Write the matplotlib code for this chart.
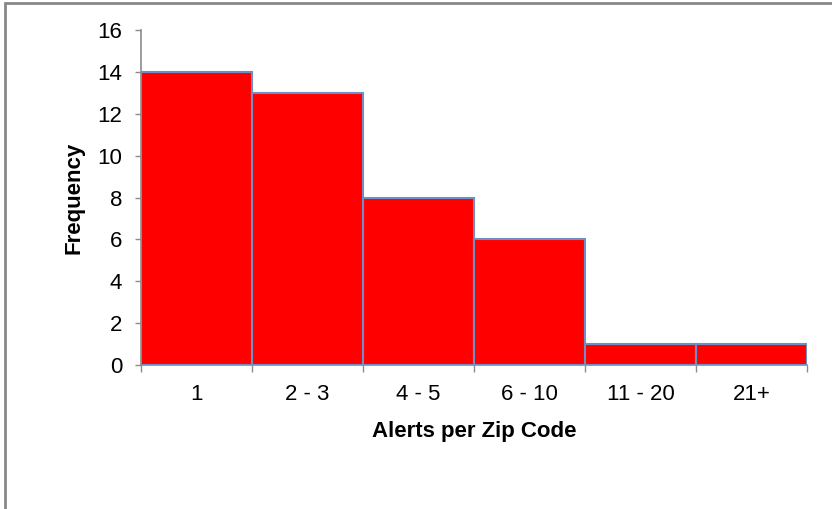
import matplotlib
matplotlib.use("Agg")
import matplotlib.pyplot as plt
from matplotlib.patches import Rectangle
import numpy as np

categories = ["1", "2 - 3", "4 - 5", "6 - 10", "11 - 20", "21+"]
frequency = [14, 13, 8, 6, 1, 1]

plt.rcParams["font.family"] = ["Liberation Sans", "DejaVu Sans"]

W, H = 832, 509
fig = plt.figure(figsize=(W / 100, H / 100), dpi=100)
ax = fig.add_axes([141 / W, (H - 365) / H, (807 - 141) / W, (365 - 30) / H])

x = np.arange(len(categories))
ax.bar(x, frequency, width=1.0, color="#FF0000", edgecolor="#6F8FC4",
       linewidth=1.5, zorder=3)

ax.set_xlim(-0.5, len(categories) - 0.5)
ax.set_ylim(0, 16)
ax.set_yticks(np.arange(0, 17, 2))
ax.set_xticks(x)
ax.set_xticklabels(categories)
ax.set_xticks(np.arange(-0.5, len(categories)), minor=True)
ax.tick_params(axis="x", which="major", length=0, pad=14, labelsize=16)
ax.tick_params(axis="x", which="minor", length=5, width=1, color="#8C8C8C",
               direction="out")
ax.tick_params(axis="y", length=4.5, width=1, color="#8C8C8C", pad=9,
               labelsize=16)

for side in ("top", "right"):
    ax.spines[side].set_visible(False)
for side in ("left", "bottom"):
    ax.spines[side].set_color("#8C8C8C")
    ax.spines[side].set_linewidth(1.2)

ax.set_ylabel("Frequency", fontsize=16, fontweight="bold", labelpad=9)
ax.set_xlabel("Alerts per Zip Code", fontsize=16, fontweight="bold",
              labelpad=11)

# outer chart border
fig.patches.append(Rectangle((5 / W, -0.05), 1.1, (H - 2.5) / H + 0.05,
                             transform=fig.transFigure, fill=False,
                             edgecolor="#888888", linewidth=2))

fig.savefig("out.png", dpi=100)
